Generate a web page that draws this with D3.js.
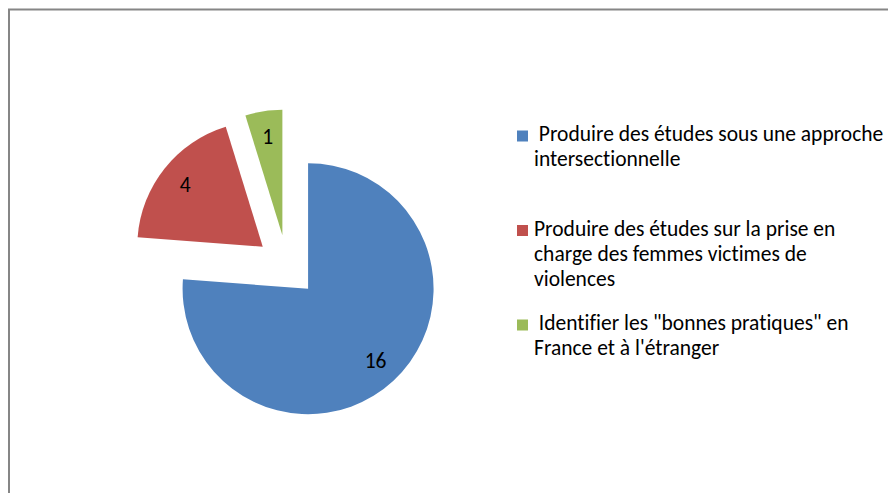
<!DOCTYPE html>
<html>
<head>
<meta charset="utf-8">
<script src="https://cdn.jsdelivr.net/npm/d3@7"></script>
<style>
  body { margin: 0; background: #fff; }
  text { font-family: Carlito, Calibri, "Open Sans", sans-serif; fill: #000; white-space: pre; font-variant-ligatures: none; }
</style>
</head>
<body>
<svg id="chart" width="888" height="493"></svg>
<script>
// data
const categories = [
  " Produire des études sous une approche|intersectionnelle",
  "Produire des études sur la prise en|charge des femmes victimes de|violences",
  " Identifier les \"bonnes pratiques\" en|France et à l'étranger"
];
const values = [16, 4, 1];
const colors = ["#4F81BD", "#C0504D", "#9BBB59"];

const svg = d3.select("#chart");

// chart frame (runs off the right and bottom edges)
svg.append("rect")
  .attr("x", 9).attr("y", 9.5)
  .attr("width", 900).attr("height", 500)
  .attr("fill", "none")
  .attr("stroke", "#868686")
  .attr("stroke-width", 2);

// pie
const cx = 287, cy = 266, radius = 125.5, explode = 31;
const pie = d3.pie().sort(null).value(d => d);
const arcs = pie(values);
const arc = d3.arc().innerRadius(0).outerRadius(radius);
const labelArc = d3.arc().innerRadius(radius * 0.6).outerRadius(radius * 0.98);

const pieG = svg.append("g").attr("transform", `translate(${cx},${cy})`);

// every slice pushed out along its middle angle
const shift = d => {
  const a = (d.startAngle + d.endAngle) / 2;
  return [Math.sin(a) * explode, -Math.cos(a) * explode];
};

const slices = pieG.selectAll("g.slice")
  .data(arcs)
  .enter()
  .append("g")
  .attr("class", "slice")
  .attr("transform", d => `translate(${shift(d)})`);

slices.append("path")
  .attr("d", arc)
  .attr("fill", (d, i) => colors[i]);

slices.append("text")
  .attr("transform", d => `translate(${labelArc.centroid(d)})`)
  .attr("text-anchor", "middle")
  .attr("dy", "0.32em")
  .style("font-size", "21.5px")
  .text(d => d.data);

// legend, entries evenly spaced
const legendY = d3.scaleLinear().domain([0, 1]).range([141, 235.5]);
const lineH = 25.3;

const legend = svg.append("g").attr("id", "legend");
const items = legend.selectAll("g")
  .data(categories)
  .enter()
  .append("g")
  .attr("transform", (d, i) => `translate(0,${legendY(i)})`);

items.append("rect")
  .attr("x", 517).attr("y", -10.5)
  .attr("width", 11).attr("height", 11)
  .attr("fill", (d, i) => colors[i]);

items.append("text")
  .style("font-size", "21.5px")
  .selectAll("tspan")
  .data(d => d.split("|"))
  .enter()
  .append("tspan")
  .attr("x", 534)
  .attr("y", (d, j) => j * lineH)
  .text(d => d);
</script>
</body>
</html>
